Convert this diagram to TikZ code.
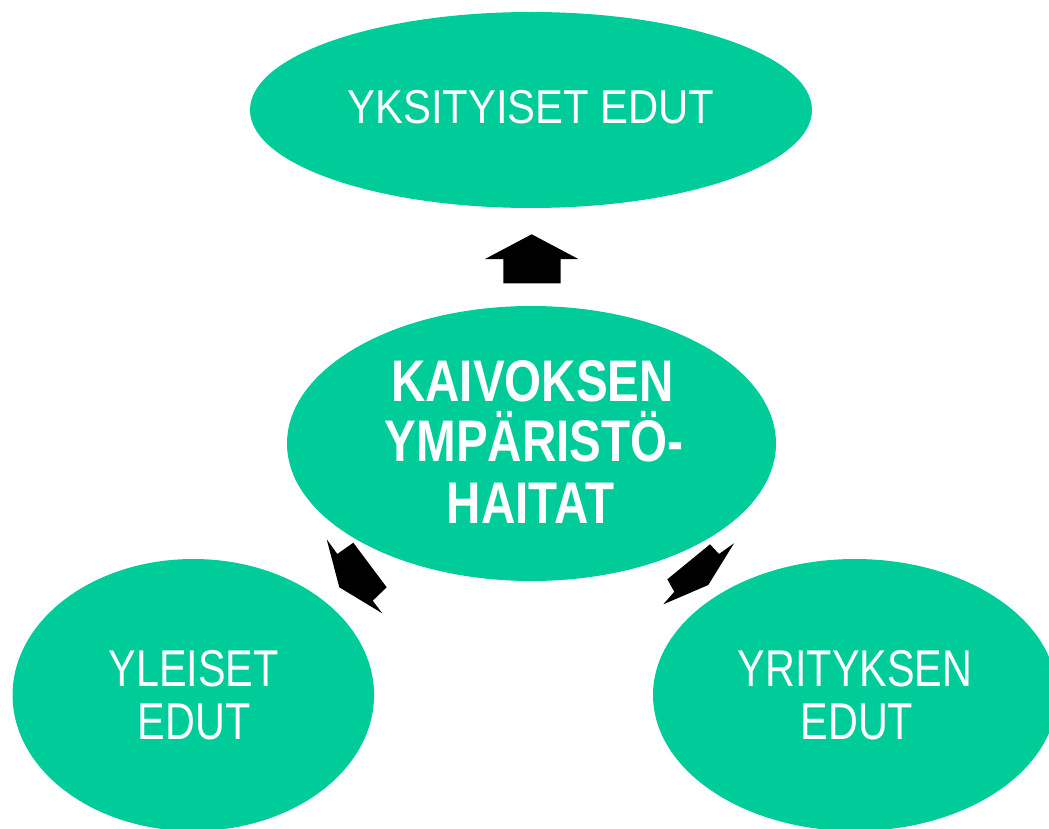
\documentclass[tikz,border=0pt]{standalone}
\usepackage{fontspec}
\setmainfont{Liberation Sans}
\usetikzlibrary{shapes.geometric}
\definecolor{mint}{RGB}{0,204,153}
\tikzset{
  blob/.style={ellipse, fill=mint, draw=none, inner sep=0pt},
  txtsmall/.style={text=white, anchor=base, inner sep=0pt, font=\fontsize{51.7}{52.6}\selectfont},
  txttop/.style={text=white, anchor=base, inner sep=0pt, font=\fontsize{47.5}{50}\selectfont},
  txtbold/.style={text=white, anchor=base, inner sep=0pt, font=\bfseries\fontsize{58.7}{61}\selectfont},
  blockarrow/.style={fill=black, draw=none}
}
\begin{document}
\begin{tikzpicture}[x=1pt,y=-1pt]
\useasboundingbox (0,0) rectangle (1049,829);
\clip (0,0) rectangle (1049,829);
% ellipses
\node[blob, minimum width=562pt, minimum height=196pt] (top) at (531,110) {};
\node[blob, minimum width=489pt, minimum height=275pt] (mid) at (531.5,443.5) {};
\node[blob, minimum width=361.5pt, minimum height=272pt] (left) at (193.3,695) {};
\node[blob, minimum width=404pt, minimum height=272pt] (right) at (855,695) {};
% texts
\node[txttop] (toptxt) at (531,124) {\scalebox{0.88}[1]{YKSITYISET EDUT}};
\node[txtbold] (mid1) at (532.5,401.7) {\scalebox{0.81}[1]{KAIVOKSEN}};
\node[txtbold] (mid2) at (534,461.7) {\scalebox{0.81}[1]{YMPÄRISTÖ-}};
\node[txtbold] (mid3) at (530.5,523.3) {\scalebox{0.81}[1]{HAITAT}};
\node[txtsmall] (left1) at (193.5,686.7) {\scalebox{0.8}[1]{YLEISET}};
\node[txtsmall] (left2) at (194,739.3) {\scalebox{0.8}[1]{EDUT}};
\node[txtsmall] (right1) at (855,686.7) {\scalebox{0.8}[1]{YRITYKSEN}};
\node[txtsmall] (right2) at (856.9,739.3) {\scalebox{0.8}[1]{EDUT}};
% block arrows
\fill[blockarrow] (531.7,234.3) -- (578.3,259) -- (560.7,259) -- (560.7,283.3)
  -- (503.3,283.3) -- (503.3,259) -- (485,259) -- cycle;
\fill[blockarrow] (326.7,539.3) -- (337.3,554) -- (353.3,542.7) -- (386.7,587.3)
  -- (372.7,600.7) -- (382.3,613.3) -- (339.3,587.3) -- cycle;
\fill[blockarrow] (663.3,604.3) -- (674.3,591.7) -- (667.3,579.3) -- (710,544.3)
  -- (719,554) -- (734,543.3) -- (708.3,585) -- cycle;
\end{tikzpicture}
\end{document}
